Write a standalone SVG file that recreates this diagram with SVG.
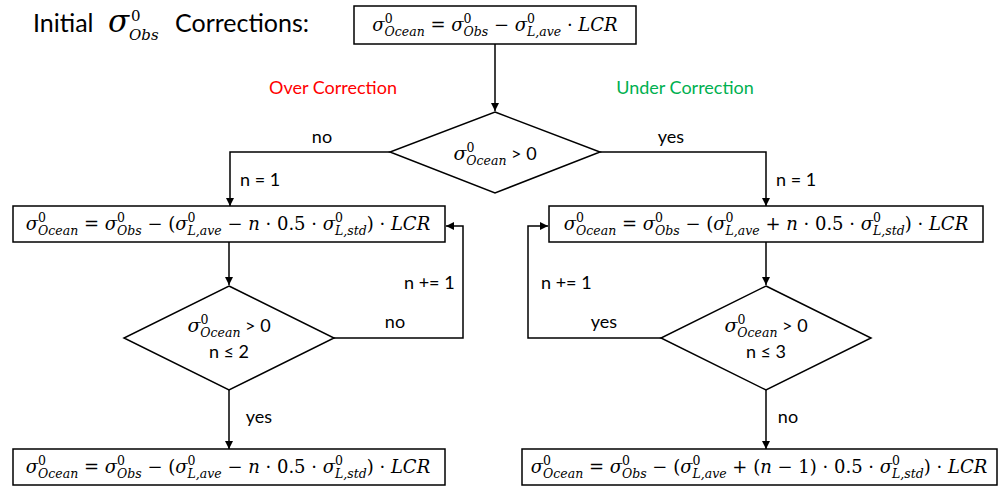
<svg xmlns="http://www.w3.org/2000/svg" width="1000" height="487" viewBox="0 0 1000 487">
<defs>
<style>
.box{fill:#fff;stroke:#000;stroke-width:1.5}
.ln{fill:none;stroke:#000;stroke-width:1.5}
.m{font-family:"DejaVu Serif","Liberation Serif",serif;font-size:18px;font-style:italic;fill:#000}
.d{font-size:19px}
.u{font-style:normal}
.sm{font-size:12.5px}
.t{font-family:Lato,"Liberation Sans",sans-serif;font-size:18px;fill:#000;font-style:normal}
.title{font-family:Lato,"Liberation Sans",sans-serif;font-size:25px;fill:#000}
</style>
<marker id="ah" viewBox="0 0 10 10" refX="10" refY="5" markerWidth="8" markerHeight="8" markerUnits="userSpaceOnUse" orient="auto">
<path d="M0,0 L10,5 L0,10 z" fill="#000"/>
</marker>
</defs>
<rect width="1000" height="487" fill="#fff"/>

<g id="title">
<text class="title" x="33" y="32">Initial</text>
<text class="m" x="108" y="32" style="font-size:31px">σ</text>
<text class="m u" x="131" y="21" style="font-size:15px">0</text>
<text class="m" x="129" y="40" style="font-size:15px">Obs</text>
<text class="title" x="175" y="32">Corrections:</text>
</g>

<g id="label-over"><text class="t" x="333" y="94" text-anchor="middle" style="fill:#FF0000">Over Correction</text></g>
<g id="label-under"><text class="t" x="685" y="94" text-anchor="middle" style="fill:#00B050">Under Correction</text></g>

<g id="connectors">
<path class="ln" d="M495,44 V111" marker-end="url(#ah)"/>
<path class="ln" d="M390,152 H230 V206" marker-end="url(#ah)"/>
<path class="ln" d="M600,152 H766 V206" marker-end="url(#ah)"/>
<path class="ln" d="M229,242 V285" marker-end="url(#ah)"/>
<path class="ln" d="M333,338 H463 V226 H446" marker-end="url(#ah)"/>
<path class="ln" d="M229,390 V449" marker-end="url(#ah)"/>
<path class="ln" d="M766,242 V285" marker-end="url(#ah)"/>
<path class="ln" d="M661,338 H528 V226 H548" marker-end="url(#ah)"/>
<path class="ln" d="M766,390 V449" marker-end="url(#ah)"/>
<text class="t" x="322" y="143" text-anchor="middle">no</text>
<text class="t" x="671" y="143" text-anchor="middle">yes</text>
<text class="t" x="240" y="186">n = 1</text>
<text class="t" x="776" y="186">n = 1</text>
<text class="t" x="404" y="289">n += 1</text>
<text class="t" x="395" y="328" text-anchor="middle">no</text>
<text class="t" x="541" y="289">n += 1</text>
<text class="t" x="604" y="328" text-anchor="middle">yes</text>
<text class="t" x="259" y="423" text-anchor="middle">yes</text>
<text class="t" x="788" y="423" text-anchor="middle">no</text>
</g>

<g id="start">
<rect class="box" x="354" y="6" width="282" height="38"/>
<text class="m" x="495" y="31" text-anchor="middle">σ<tspan class="sm u" dy="-8">0</tspan><tspan class="sm" dx="-8" dy="13">Ocean</tspan><tspan class="u" dy="-5"> = </tspan>σ<tspan class="sm u" dy="-8">0</tspan><tspan class="sm" dx="-8" dy="13">Obs</tspan><tspan class="u" dy="-5"> − </tspan>σ<tspan class="sm u" dy="-8">0</tspan><tspan class="sm" dx="-8" dy="13">L,ave</tspan><tspan class="u" dy="-5"> · </tspan>LCR</text>
</g>

<g id="decision1">
<polygon class="box" points="495,112 600,152 495,193 390,152"/>
<text class="m d" x="495" y="160" text-anchor="middle">σ<tspan class="sm u" dy="-8">0</tspan><tspan class="sm" dx="-8" dy="13">Ocean</tspan><tspan class="t" dy="-5"> &gt; 0</tspan></text>
</g>

<g id="over-box">
<rect class="box" x="13" y="206" width="432" height="36"/>
<text class="m" x="228" y="230" text-anchor="middle">σ<tspan class="sm u" dy="-8">0</tspan><tspan class="sm" dx="-8" dy="13">Ocean</tspan><tspan class="u" dy="-5"> = </tspan>σ<tspan class="sm u" dy="-8">0</tspan><tspan class="sm" dx="-8" dy="13">Obs</tspan><tspan class="u" dy="-5"> − (</tspan>σ<tspan class="sm u" dy="-8">0</tspan><tspan class="sm" dx="-8" dy="13">L,ave</tspan><tspan class="u" dy="-5"> − </tspan>n<tspan class="u"> · 0.5 · </tspan>σ<tspan class="sm u" dy="-8">0</tspan><tspan class="sm" dx="-8" dy="13">L,std</tspan><tspan class="u" dy="-5">) · </tspan>LCR</text>
</g>

<g id="under-box">
<rect class="box" x="549" y="206" width="434" height="36"/>
<text class="m" x="766" y="230" text-anchor="middle">σ<tspan class="sm u" dy="-8">0</tspan><tspan class="sm" dx="-8" dy="13">Ocean</tspan><tspan class="u" dy="-5"> = </tspan>σ<tspan class="sm u" dy="-8">0</tspan><tspan class="sm" dx="-8" dy="13">Obs</tspan><tspan class="u" dy="-5"> − (</tspan>σ<tspan class="sm u" dy="-8">0</tspan><tspan class="sm" dx="-8" dy="13">L,ave</tspan><tspan class="u" dy="-5"> + </tspan>n<tspan class="u"> · 0.5 · </tspan>σ<tspan class="sm u" dy="-8">0</tspan><tspan class="sm" dx="-8" dy="13">L,std</tspan><tspan class="u" dy="-5">) · </tspan>LCR</text>
</g>

<g id="decision2">
<polygon class="box" points="229,286 334,338 229,390 124,338"/>
<text class="m d" x="229" y="332" text-anchor="middle">σ<tspan class="sm u" dy="-8">0</tspan><tspan class="sm" dx="-8" dy="13">Ocean</tspan><tspan class="t" dy="-5"> &gt; 0</tspan></text>
<text class="t" x="229" y="358" text-anchor="middle">n ≤ 2</text>
</g>

<g id="decision3">
<polygon class="box" points="766,286 871,338 766,390 661,338"/>
<text class="m d" x="766" y="332" text-anchor="middle">σ<tspan class="sm u" dy="-8">0</tspan><tspan class="sm" dx="-8" dy="13">Ocean</tspan><tspan class="t" dy="-5"> &gt; 0</tspan></text>
<text class="t" x="766" y="358" text-anchor="middle">n ≤ 3</text>
</g>

<g id="over-result">
<rect class="box" x="13" y="449" width="432" height="36"/>
<text class="m" x="228" y="473" text-anchor="middle">σ<tspan class="sm u" dy="-8">0</tspan><tspan class="sm" dx="-8" dy="13">Ocean</tspan><tspan class="u" dy="-5"> = </tspan>σ<tspan class="sm u" dy="-8">0</tspan><tspan class="sm" dx="-8" dy="13">Obs</tspan><tspan class="u" dy="-5"> − (</tspan>σ<tspan class="sm u" dy="-8">0</tspan><tspan class="sm" dx="-8" dy="13">L,ave</tspan><tspan class="u" dy="-5"> − </tspan>n<tspan class="u"> · 0.5 · </tspan>σ<tspan class="sm u" dy="-8">0</tspan><tspan class="sm" dx="-8" dy="13">L,std</tspan><tspan class="u" dy="-5">) · </tspan>LCR</text>
</g>

<g id="under-result">
<rect class="box" x="522" y="449" width="475" height="36"/>
<text class="m" x="759" y="473" text-anchor="middle">σ<tspan class="sm u" dy="-8">0</tspan><tspan class="sm" dx="-8" dy="13">Ocean</tspan><tspan class="u" dy="-5"> = </tspan>σ<tspan class="sm u" dy="-8">0</tspan><tspan class="sm" dx="-8" dy="13">Obs</tspan><tspan class="u" dy="-5"> − (</tspan>σ<tspan class="sm u" dy="-8">0</tspan><tspan class="sm" dx="-8" dy="13">L,ave</tspan><tspan class="u" dy="-5"> + (</tspan>n<tspan class="u"> − 1) · 0.5 · </tspan>σ<tspan class="sm u" dy="-8">0</tspan><tspan class="sm" dx="-8" dy="13">L,std</tspan><tspan class="u" dy="-5">) · </tspan>LCR</text>
</g>
</svg>
